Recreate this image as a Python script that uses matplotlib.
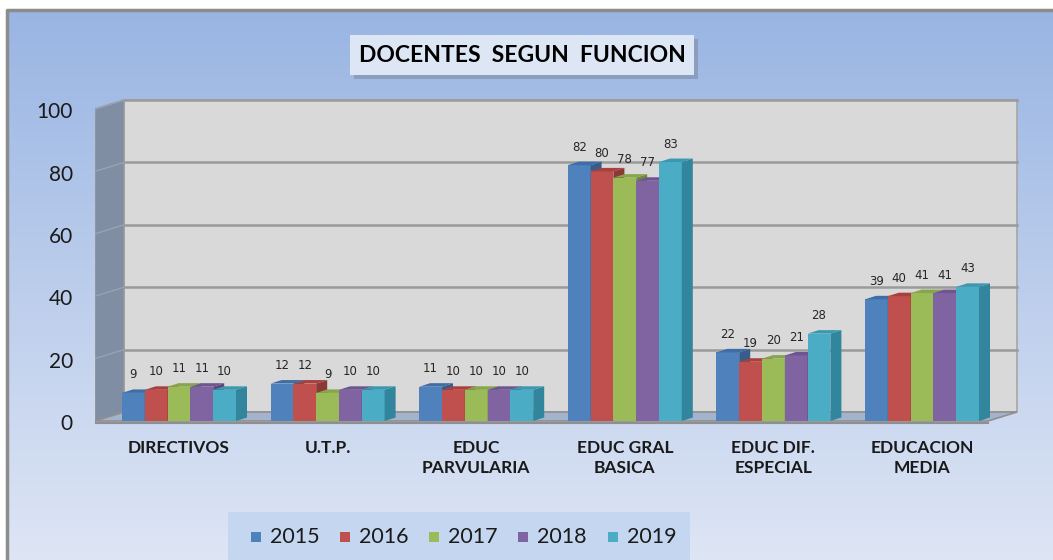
import matplotlib.pyplot as plt
import numpy as np
from matplotlib.patches import Polygon, Rectangle

categories = ['DIRECTIVOS', 'U.T.P.', 'EDUC\nPARVULARIA', 'EDUC GRAL\nBASICA',
              'EDUC DIF.\nESPECIAL', 'EDUCACION\nMEDIA']
years = ['2015', '2016', '2017', '2018', '2019']
v2015 = [9, 12, 11, 82, 22, 39]
v2016 = [10, 12, 10, 80, 19, 40]
v2017 = [11, 9, 10, 78, 20, 41]
v2018 = [11, 10, 10, 77, 21, 41]
v2019 = [10, 10, 10, 83, 28, 43]
yticks = [0, 20, 40, 60, 80, 100]

colors = ['#4f81bd', '#c0504d', '#9bbb59', '#8064a2', '#4bacc6']
sides = ['#385d8a', '#8c3836', '#71893f', '#5c4776', '#31859c']
tops = ['#3f6da5', '#a8403e', '#86a64a', '#6e5592', '#3b98b0']
FONT = ['Lato', 'DejaVu Sans']


def main():
    W, H = 1053, 560
    fig = plt.figure(figsize=(W / 100, H / 100), dpi=100)
    fig.patch.set_facecolor('white')

    # background gradient + frame
    bg = fig.add_axes([0, 0, 1, 1])
    bg.set_xlim(0, W)
    bg.set_ylim(H, 0)
    bg.axis('off')
    grad = np.linspace(0, 1, 256)[:, None]
    top = np.array([0.60, 0.71, 0.89])
    bot = np.array([0.87, 0.90, 0.96])
    img = top + (bot - top) * grad[..., None]
    bg.imshow(img, extent=[7, W + 5, H, 10], aspect='auto', zorder=0)
    bg.plot([7, 7, W + 5], [H, 10, 10], color='#8c8c8c', lw=2.5, zorder=1)

    # title box with shadow
    bg.add_patch(Rectangle((354, 39), 344, 40, facecolor='#7f8ca3', alpha=0.6,
                           edgecolor='none', zorder=2))
    bg.add_patch(Rectangle((350, 35), 344, 40, facecolor='#dde6f4',
                           edgecolor='none', zorder=3))
    bg.text(522, 55, 'DOCENTES  SEGUN  FUNCION', fontsize=16.5, fontweight='bold',
            family=FONT, ha='center', va='center', color='black', zorder=4)

    # legend box
    bg.add_patch(Rectangle((228, 512), 462, 50, facecolor='#c5d7f0',
                           edgecolor='none', zorder=2))

    # plot axes: front plane 0 at y=421, 3.12 px per unit; 148.6 px per category
    px_x, px_y = 148.6, 3.12
    x0_pix, y0_pix = 95, 421
    ax_l, ax_r, ax_t, ax_b = 95, 1030, 90, 440
    ax = fig.add_axes([ax_l / W, 1 - ax_b / H, (ax_r - ax_l) / W, (ax_b - ax_t) / H])
    ax.axis('off')
    xl = -(179 - x0_pix) / px_x
    ax.set_xlim(xl, xl + (ax_r - ax_l) / px_x)
    ax.set_ylim((y0_pix - ax_b) / px_y, (y0_pix - ax_t) / px_y)

    dxw, dyw = 29 / px_x, 9 / px_y
    xr_back = xl + (1017 - x0_pix) / px_x
    xr_front = xr_back - dxw

    # back wall
    ax.add_patch(Polygon([(xl + dxw, dyw), (xr_back, dyw), (xr_back, 100 + dyw),
                          (xl + dxw, 100 + dyw)], closed=True, facecolor='#d9d9d9',
                         edgecolor='#a6a6a6', lw=1.2, zorder=1))
    # left wall
    ax.add_patch(Polygon([(xl, 0), (xl + dxw, dyw), (xl + dxw, 100 + dyw), (xl, 100)],
                         closed=True, facecolor='#7f8ea3', edgecolor='#9a9a9a',
                         lw=1.0, zorder=1))
    # floor
    ax.add_patch(Polygon([(xl, 0), (xr_front, 0), (xr_back, dyw), (xl + dxw, dyw)],
                         closed=True, facecolor='#a3b3cb', edgecolor='#8f8f8f',
                         lw=1.2, zorder=1))
    ax.plot([xl, xr_front], [-0.6, -0.6], color='#8f8f8f', lw=1.5, zorder=1)
    for v in yticks[1:]:
        ax.plot([xl + dxw, xr_back], [v + dyw, v + dyw], color='#9a9a9a', lw=1.8, zorder=2)
        ax.plot([xl, xl + dxw], [v, v + dyw], color='#98a2b3', lw=1.0, zorder=2)
    for v in yticks:
        ax.text(xl - 22 / px_x, v - 1, str(v), fontsize=15, family=FONT,
                ha='right', va='center', color='#1a1a1a')

    # bars
    series = [v2015, v2016, v2017, v2018, v2019]
    w = 22.8 / px_x
    dxb, dyb = 11 / px_x, 3.5 / px_y
    for j, vals in enumerate(series):
        for i, v in enumerate(vals):
            x = i - 2.5 * w + j * w
            z = 5 + i * 10 + j
            ax.add_patch(Rectangle((x, 0), w, v, facecolor=colors[j],
                                   edgecolor='none', zorder=z))
            ax.add_patch(Polygon([(x + w, 0), (x + w + dxb, dyb), (x + w + dxb, v + dyb),
                                  (x + w, v)], closed=True, facecolor=sides[j],
                                 edgecolor='none', zorder=z))
            ax.add_patch(Polygon([(x, v), (x + w, v), (x + w + dxb, v + dyb),
                                  (x + dxb, v + dyb)], closed=True, facecolor=tops[j],
                                 edgecolor='none', zorder=z))
            ax.text(x + w / 2, v + 18 / px_y, str(v), fontsize=8.5,
                    family='DejaVu Sans', ha='center', va='center',
                    color='#262626', zorder=60)

    for i, c in enumerate(categories):
        ax.text(i, (y0_pix - 440) / px_y, c, fontsize=12.5, fontweight='bold',
                family=FONT, ha='center', va='top', color='#1a1a1a',
                linespacing=1.3)

    # legend
    lx = [251, 340, 429, 518, 608]
    for j, y in enumerate(years):
        bg.add_patch(Rectangle((lx[j], 532), 10, 10, facecolor=colors[j],
                               edgecolor='none', zorder=5))
        bg.text(lx[j] + 19, 537, y, fontsize=15.5, family=FONT, ha='left',
                va='center', color='#1a1a1a', zorder=5)

    fig.savefig('out.png', dpi=100)


if __name__ == '__main__':
    main()
